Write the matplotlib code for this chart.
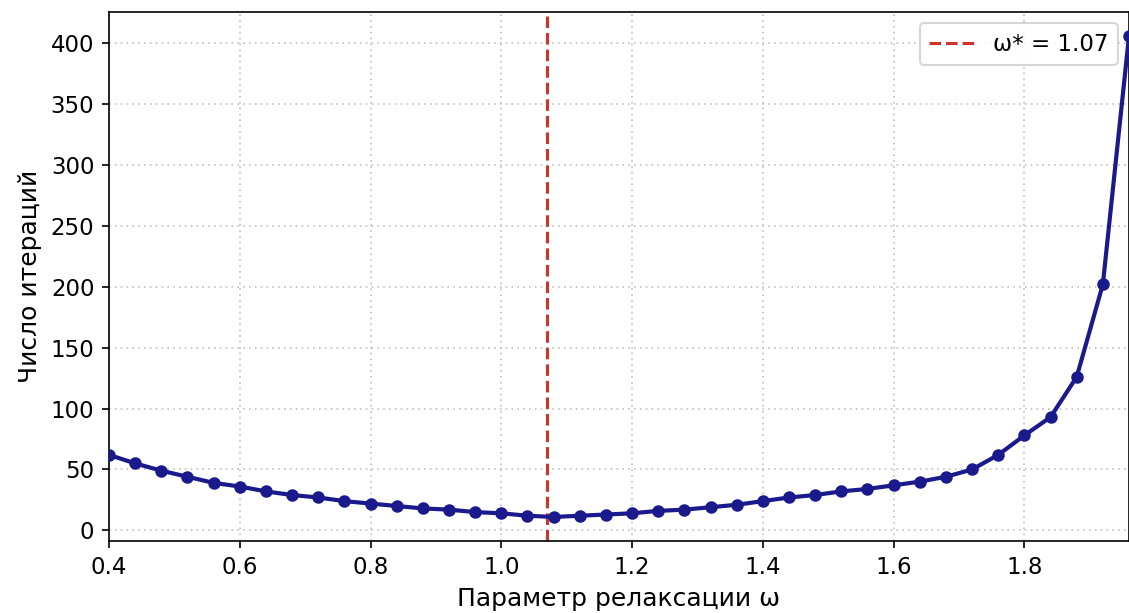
import matplotlib
matplotlib.use("Agg")
import matplotlib.pyplot as plt
import numpy as np

omega = [0.40, 0.44, 0.48, 0.52, 0.56, 0.60, 0.64, 0.68, 0.72, 0.76,
         0.80, 0.84, 0.88, 0.92, 0.96, 1.00, 1.04, 1.08, 1.12, 1.16,
         1.20, 1.24, 1.28, 1.32, 1.36, 1.40, 1.44, 1.48, 1.52, 1.56,
         1.60, 1.64, 1.68, 1.72, 1.76, 1.80, 1.84, 1.88, 1.92, 1.96]
iterations = [62, 55, 49, 44, 39, 36, 32, 29, 27, 24,
              22, 20, 18, 17, 15, 14, 12, 11, 12, 13,
              14, 16, 17, 19, 21, 24, 27, 29, 32, 34,
              37, 40, 44, 50, 62, 78, 93, 126, 202, 406]
omega_opt = 1.07
legend_label = "ω* = 1.07"
xlabel = "Параметр релаксации ω"
ylabel = "Число итераций"

fig = plt.figure(figsize=(1129/150, 613/150), dpi=150)
ax = fig.add_axes([109/1129, 1 - 541/613, (1129 - 109)/1129, (541 - 12)/613])

ax.plot(omega, iterations, color="#1a1a8c", linewidth=2, marker="o",
        markersize=5, clip_on=True, zorder=3)
ax.axvline(omega_opt, color="#c8372a", linestyle="--", linewidth=1.5,
           label=legend_label, zorder=2)

ax.set_xlim(omega[0], omega[-1])
ax.set_xlabel(xlabel, fontsize=12)
ax.set_ylabel(ylabel, fontsize=12)
ax.tick_params(labelsize=11)
ax.grid(True, linestyle=(0, (1, 2.5)), color="#c0c0c0", linewidth=0.8)
ax.legend(loc="upper right", fontsize=11)

fig.savefig("out.png", dpi=150)
